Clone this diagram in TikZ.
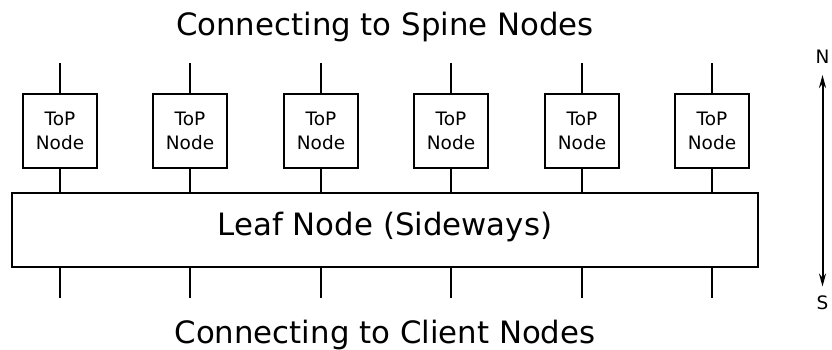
\documentclass[tikz,border=0pt]{standalone}
\usepackage{fontspec}
\setmainfont{DejaVu Sans}
\usetikzlibrary{positioning,arrows.meta}

\begin{document}
\begin{tikzpicture}[x=1pt,y=-1pt,
    >={Stealth[length=13pt,width=7pt]},
    wire/.style={line width=2pt},
    topbox/.style={draw, line width=1.8pt, minimum size=74pt, inner sep=0pt, align=center, font=\fontsize{18.5}{23.3}\selectfont},
    leafbox/.style={draw, line width=1.8pt, minimum width=746pt, minimum height=74pt, inner sep=0pt, text height=22pt, text depth=12pt, font=\fontsize{30.8}{36}\selectfont},
    heading/.style={anchor=base, font=\fontsize{30.8}{36}\selectfont},
    compass/.style={inner sep=0pt, font=\fontsize{18.5}{22}\selectfont}]
    \useasboundingbox (0,0) rectangle (832,349);

    % Nodes
    \node[heading] (spine) at (385,35) {Connecting to Spine Nodes};
    \node[heading] (client) at (385,343) {Connecting to Client Nodes};

    \node[topbox] (top1) at (60,131) {ToP\\Node};
    \node[topbox] (top2) at (190,131) {ToP\\Node};
    \node[topbox] (top3) at (321,131) {ToP\\Node};
    \node[topbox] (top4) at (451,131) {ToP\\Node};
    \node[topbox] (top5) at (582,131) {ToP\\Node};
    \node[topbox] (top6) at (712,131) {ToP\\Node};

    \node[leafbox] (leaf) at (385,230) {Leaf Node (Sideways)};

    \node[compass, anchor=south] (north) at (822.5,64) {N};
    \node[compass, anchor=north] (south) at (822.5,296) {S};

    % free ends of the links
    \coordinate[above=30pt of top1] (up1);
    \coordinate[above=30pt of top2] (up2);
    \coordinate[above=30pt of top3] (up3);
    \coordinate[above=30pt of top4] (up4);
    \coordinate[above=30pt of top5] (up5);
    \coordinate[above=30pt of top6] (up6);
    \coordinate (down1) at (60,298);
    \coordinate (down2) at (190,298);
    \coordinate (down3) at (321,298);
    \coordinate (down4) at (451,298);
    \coordinate (down5) at (582,298);
    \coordinate (down6) at (712,298);

    % Links
    \draw[wire] (up1) -- (top1.north);
    \draw[wire] (up2) -- (top2.north);
    \draw[wire] (up3) -- (top3.north);
    \draw[wire] (up4) -- (top4.north);
    \draw[wire] (up5) -- (top5.north);
    \draw[wire] (up6) -- (top6.north);
    \draw[wire] (top1.south) -- (top1.south |- leaf.north);
    \draw[wire] (top2.south) -- (top2.south |- leaf.north);
    \draw[wire] (top3.south) -- (top3.south |- leaf.north);
    \draw[wire] (top4.south) -- (top4.south |- leaf.north);
    \draw[wire] (top5.south) -- (top5.south |- leaf.north);
    \draw[wire] (top6.south) -- (top6.south |- leaf.north);
    \draw[wire] (down1 |- leaf.south) -- (down1);
    \draw[wire] (down2 |- leaf.south) -- (down2);
    \draw[wire] (down3 |- leaf.south) -- (down3);
    \draw[wire] (down4 |- leaf.south) -- (down4);
    \draw[wire] (down5 |- leaf.south) -- (down5);
    \draw[wire] (down6 |- leaf.south) -- (down6);

    % Arrow
    \draw[<->, wire, shorten <=11pt, shorten >=9.5pt] (north.south) -- (south.north);
\end{tikzpicture}
\end{document}
